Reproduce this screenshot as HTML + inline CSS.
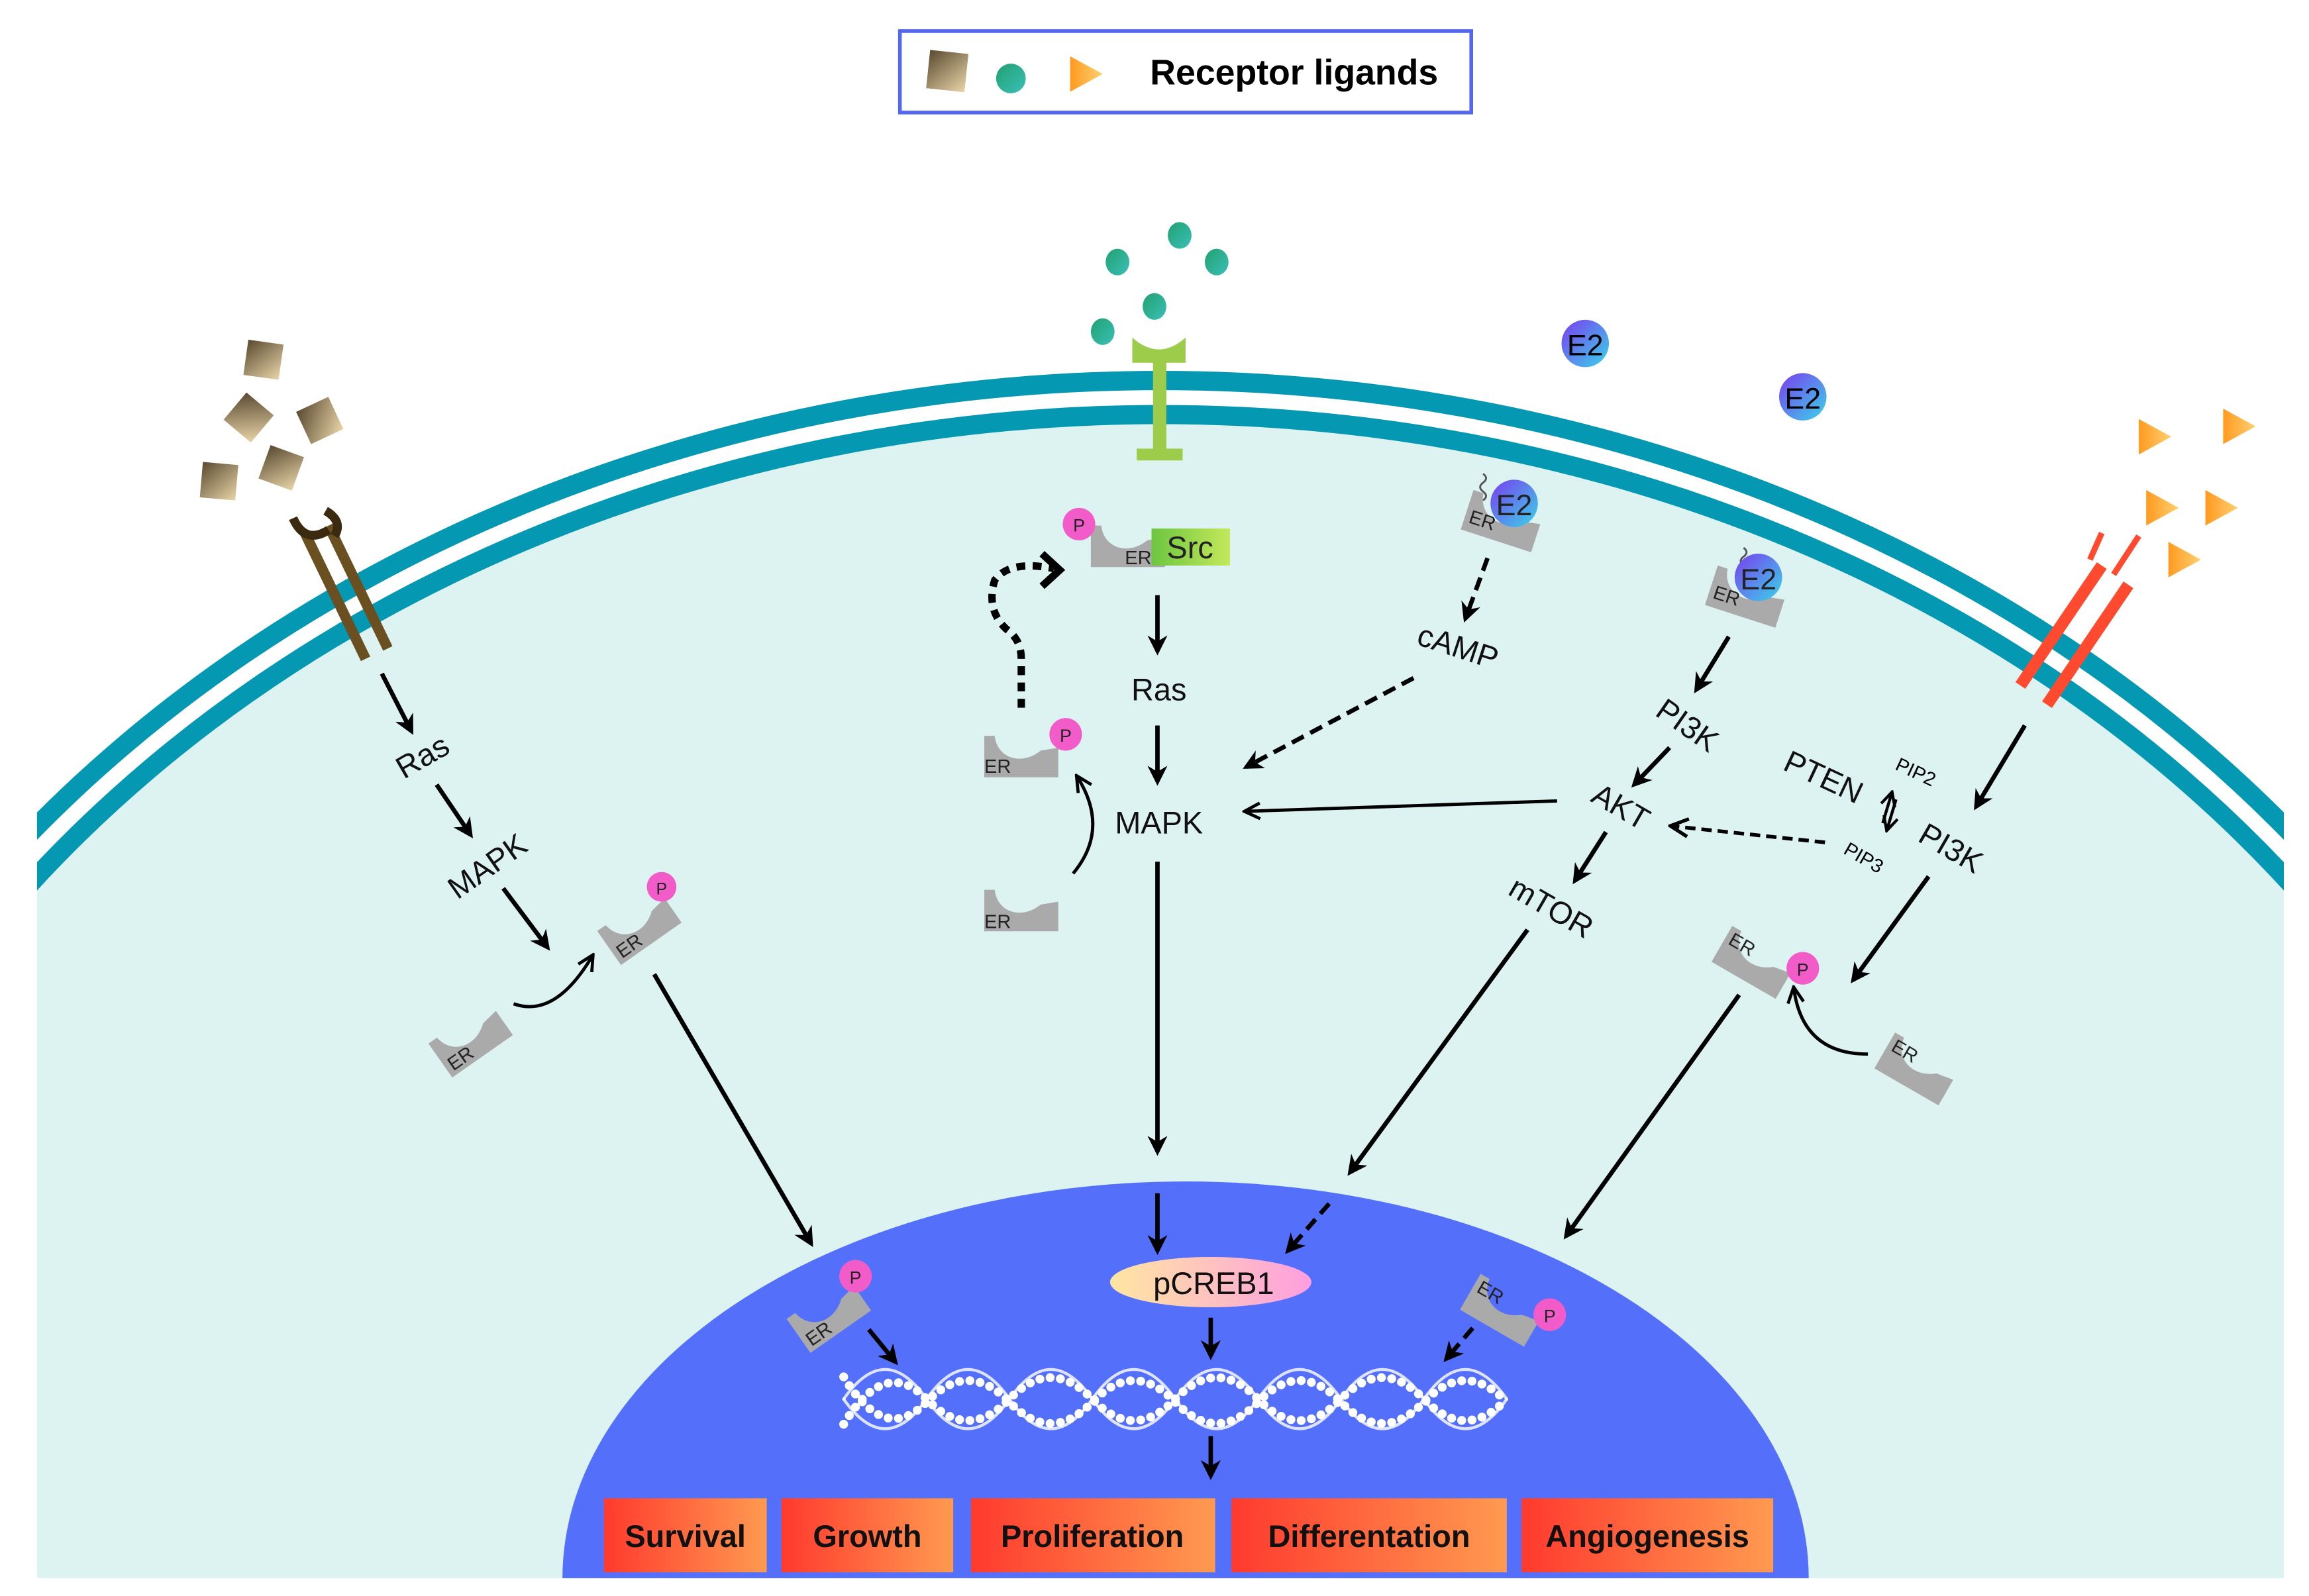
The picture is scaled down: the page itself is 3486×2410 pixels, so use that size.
<!DOCTYPE html>
<html><head><meta charset="utf-8"><style>
html,body{margin:0;padding:0;background:#fff;width:3486px;height:2410px;overflow:hidden;}
svg{display:block;position:absolute;left:0;top:0;}
text{font-family:"Liberation Sans",sans-serif;}
</style></head><body>
<svg width="3486" height="2410" viewBox="0 0 1560 1078" preserveAspectRatio="none" xmlns="http://www.w3.org/2000/svg">
<defs>
<marker id="ah" viewBox="0 0 10 10" refX="8" refY="5" markerWidth="4.5" markerHeight="4.5" orient="auto" markerUnits="strokeWidth">
<path d="M0,0 L10,5 L0,10 L3,5 Z" fill="#000"/></marker>
<marker id="ah2" viewBox="0 0 10 10" refX="8" refY="5" markerWidth="6" markerHeight="6" orient="auto" markerUnits="strokeWidth">
<path d="M1,1 L9,5 L1,9" fill="none" stroke="#000" stroke-width="1.6"/></marker>
<clipPath id="cellclip"><rect x="25" y="0" width="1518" height="1066"/></clipPath>
<linearGradient id="box" x1="0" x2="1" y1="0" y2="0"><stop offset="0" stop-color="#ff3a2e"/><stop offset="1" stop-color="#ff9a50"/></linearGradient>
<linearGradient id="creb" x1="0" x2="1"><stop offset="0" stop-color="#ffe6a0"/><stop offset="1" stop-color="#ff9ee0"/></linearGradient>
<linearGradient id="e2" x1="0" x2="1" y1="0" y2="1"><stop offset="0" stop-color="#7a3cf0"/><stop offset="1" stop-color="#3ad4e8"/></linearGradient>
<linearGradient id="gdot" x1="0" x2="1" y1="0" y2="1"><stop offset="0" stop-color="#22a070"/><stop offset="1" stop-color="#3ac0b8"/></linearGradient>
<linearGradient id="brown" x1="0" x2="1" y1="0" y2="1"><stop offset="0" stop-color="#5a4a30"/><stop offset="1" stop-color="#e8d4a8"/></linearGradient>
<linearGradient id="tri" x1="0" x2="1"><stop offset="0" stop-color="#ff9a20"/><stop offset="1" stop-color="#ffd070"/></linearGradient>
<linearGradient id="src" x1="0" x2="1"><stop offset="0" stop-color="#6cc640"/><stop offset="1" stop-color="#c4e85a"/></linearGradient>
<g id="er"><path d="M0,0 L7,0 C9,16 26,20 38,10 L50,8 L50,28 L0,28 Z" fill="#aaaaaa"/></g>
<polygon id="trg" points="0,-12 22,0 0,12" fill="url(#tri)"/>
</defs>

<g clip-path="url(#cellclip)">
<ellipse cx="784" cy="1100" rx="967" ry="820" fill="#ddf3f2"/>
<ellipse cx="784" cy="1100" rx="991" ry="843" fill="none" stroke="#0598b2" stroke-width="13"/>
<ellipse cx="784" cy="1100" rx="967" ry="820" fill="none" stroke="#0598b2" stroke-width="13"/>
</g>
<rect x="0" y="1066" width="1560" height="12" fill="#fff"/>
<path d="M380,1066 A421,268 0 0 1 1222,1066 Z" fill="#5470fb"/>

<rect x="608" y="21" width="386" height="55" fill="#fff" stroke="#5468ee" stroke-width="2.5"/>
<rect x="627" y="35" width="26" height="26" fill="url(#brown)" transform="rotate(6 640 48)"/>
<circle cx="683" cy="53" r="10" fill="url(#gdot)"/>
<use href="#trg" x="723" y="50"/>
<text x="777" y="57" font-size="24" font-weight="bold">Receptor ligands</text>

<g fill="url(#brown)">
<rect x="166" y="231" width="24" height="24" transform="rotate(8 178 243)"/>
<rect x="156" y="270" width="24" height="24" transform="rotate(40 168 282)"/>
<rect x="204" y="272" width="24" height="24" transform="rotate(-25 216 284)"/>
<rect x="136" y="313" width="24" height="24" transform="rotate(5 148 325)"/>
<rect x="178" y="304" width="24" height="24" transform="rotate(20 190 316)"/>
</g>
<g stroke="#6a5020" stroke-width="7">
<line x1="206" y1="360" x2="247" y2="445"/>
<line x1="222" y1="355" x2="262" y2="438"/>
</g>
<path d="M198,350 Q206,368 222,358" fill="none" stroke="#3a2a10" stroke-width="6"/>
<path d="M220,345 Q232,352 226,362" fill="none" stroke="#3a2a10" stroke-width="6"/>

<g fill="#9ccc4a">
<rect x="779" y="243" width="9" height="64"/>
<rect x="768" y="303" width="31" height="8"/>
<path d="M765,228 Q783,244 801,228 L801,245 L765,245 Z"/>
</g>
<g fill="url(#gdot)">
<ellipse cx="755" cy="177" rx="8" ry="9"/><ellipse cx="797" cy="159" rx="8" ry="9"/>
<ellipse cx="822" cy="177" rx="8" ry="9"/><ellipse cx="780" cy="207" rx="8" ry="9"/>
<ellipse cx="745" cy="224" rx="8" ry="9"/>
</g>
<circle cx="1071" cy="232" r="16" fill="url(#e2)"/><text x="1071" y="240" font-size="20" text-anchor="middle">E2</text>
<circle cx="1218" cy="268" r="16" fill="url(#e2)"/><text x="1218" y="276" font-size="20" text-anchor="middle">E2</text>
<use href="#trg" x="1445" y="295"/><use href="#trg" x="1502" y="288"/>
<use href="#trg" x="1450" y="343"/><use href="#trg" x="1490" y="343"/>
<use href="#trg" x="1465" y="378"/>
<g stroke="#ff4a30" stroke-width="8">
<line x1="1365" y1="463" x2="1420" y2="382"/>
<line x1="1383" y1="476" x2="1438" y2="395"/>
</g>
<path d="M1412,378 L1420,360 M1428,388 L1445,362" stroke="#ff4a30" stroke-width="4"/>

<g stroke="#000" stroke-width="3" fill="none" marker-end="url(#ah)">
<line x1="258" y1="455" x2="278" y2="494"/>
<line x1="295" y1="530" x2="318" y2="564"/>
<line x1="340" y1="600" x2="370" y2="640"/>
<line x1="442" y1="658" x2="548" y2="840"/>
<line x1="782" y1="402" x2="782" y2="440"/>
<line x1="782" y1="490" x2="782" y2="528"/>
<line x1="782" y1="582" x2="782" y2="778"/>
<line x1="1168" y1="430" x2="1146" y2="466"/>
<line x1="1128" y1="505" x2="1104" y2="530"/>
<line x1="1085" y1="562" x2="1064" y2="595"/>
<line x1="1032" y1="628" x2="912" y2="792"/>
<line x1="1368" y1="490" x2="1335" y2="545"/>
<line x1="1303" y1="592" x2="1252" y2="662"/>
<line x1="1175" y1="672" x2="1058" y2="835"/>
<line x1="782" y1="806" x2="782" y2="845"/>
<line x1="587" y1="898" x2="605" y2="920"/>
<line x1="818" y1="890" x2="818" y2="916"/>
<line x1="818" y1="970" x2="818" y2="997"/>
</g>
<g stroke="#000" stroke-width="2.2" fill="none" marker-end="url(#ah2)">
<line x1="1052" y1="541" x2="842" y2="548"/>
<path d="M347,678 Q375,688 400,646"/>
<path d="M725,590 Q750,560 728,525"/>
<path d="M1262,712 Q1218,712 1212,668"/>
</g>
<g stroke="#000" stroke-width="3" fill="none" stroke-dasharray="9 5" marker-end="url(#ah)">
<line x1="1005" y1="377" x2="990" y2="418"/>
<line x1="955" y1="458" x2="842" y2="518"/>
<line x1="898" y1="813" x2="870" y2="845"/>
<line x1="995" y1="897" x2="977" y2="918"/>
</g>
<line x1="1233" y1="569" x2="1130" y2="558" stroke="#000" stroke-width="2.5" stroke-dasharray="7 4" marker-end="url(#ah2)"/>
<path d="M690,478 L690,445 Q690,432 680,425 Q666,412 672,392 Q682,378 712,384" fill="none" stroke="#000" stroke-width="5" stroke-dasharray="6 5"/>
<path d="M704,374 L716,385 L704,396" fill="none" stroke="#000" stroke-width="5"/>
<g stroke="#000" stroke-width="2" fill="none" marker-end="url(#ah2)">
<line x1="1272" y1="556" x2="1278" y2="536"/>
<line x1="1281" y1="540" x2="1275" y2="560"/>
</g>

<g font-size="21" fill="#111">
<text x="286" y="518" text-anchor="middle" transform="rotate(-30 286 512)">Ras</text>
<text x="330" y="592" text-anchor="middle" transform="rotate(-35 330 586)">MAPK</text>
<text x="783" y="473" text-anchor="middle">Ras</text>
<text x="783" y="563" text-anchor="middle">MAPK</text>
<text x="985" y="444" text-anchor="middle" transform="rotate(18 985 437)">cAMP</text>
<text x="1140" y="497" text-anchor="middle" transform="rotate(35 1140 490)">PI3K</text>
<text x="1095" y="552" text-anchor="middle" transform="rotate(30 1095 545)">AKT</text>
<text x="1048" y="620" text-anchor="middle" transform="rotate(30 1048 613)">mTOR</text>
<text x="1232" y="532" text-anchor="middle" transform="rotate(25 1232 525)">PTEN</text>
<text x="1318" y="580" text-anchor="middle" transform="rotate(30 1318 573)">PI3K</text>
</g>
<text x="1295" y="526" font-size="13" text-anchor="middle" transform="rotate(25 1295 520)">PIP2</text>
<text x="1260" y="584" font-size="13" text-anchor="middle" transform="rotate(30 1260 578)">PIP3</text>

<g font-size="13" fill="#222">
<g transform="translate(318,702) rotate(-35) translate(-25,-14)"><use href="#er"/><text x="3" y="25">ER</text></g>
<g transform="translate(432,626) rotate(-35) translate(-25,-14)"><use href="#er"/><text x="3" y="25">ER</text></g>
<circle cx="447" cy="599" r="10" fill="#f25cc8"/><text x="447" y="604" font-size="11" text-anchor="middle">P</text>
<use href="#er" x="737" y="355"/>
<rect x="778" y="357" width="53" height="25" fill="url(#src)"/>
<text x="760" y="381">ER</text>
<text x="804" y="377" font-size="21" text-anchor="middle">Src</text>
<circle cx="729" cy="354" r="11" fill="#f25cc8"/><text x="729" y="359" font-size="12" text-anchor="middle">P</text>
<use href="#er" x="665" y="497"/><text x="665" y="522">ER</text>
<circle cx="720" cy="496" r="11" fill="#f25cc8"/><text x="720" y="501" font-size="12" text-anchor="middle">P</text>
<use href="#er" x="665" y="601"/><text x="665" y="627">ER</text>
<g transform="translate(1015,352) rotate(18) translate(-25,-14)"><use href="#er"/><text x="3" y="22">ER</text></g>
<path d="M1002,320 q4,3 0,6 q-4,3 0,6 q4,3 0,6" stroke="#555" fill="none" stroke-width="1.3"/>
<circle cx="1023" cy="340" r="16" fill="url(#e2)"/><text x="1023" y="348" font-size="20" text-anchor="middle">E2</text>
<g transform="translate(1180,403) rotate(18) translate(-25,-14)"><use href="#er"/><text x="3" y="22">ER</text></g>
<path d="M1178,370 q4,3 0,6 q-4,3 0,6 q4,3 0,6" stroke="#555" fill="none" stroke-width="1.3"/>
<circle cx="1188" cy="390" r="16" fill="url(#e2)"/><text x="1188" y="398" font-size="20" text-anchor="middle">E2</text>
<g transform="translate(1185,650) rotate(30) translate(-25,-14)"><use href="#er"/><text x="3" y="12">ER</text></g>
<circle cx="1218" cy="654" r="11" fill="#f25cc8"/><text x="1218" y="659" font-size="12" text-anchor="middle">P</text>
<g transform="translate(1295,722) rotate(30) translate(-25,-14)"><use href="#er"/><text x="3" y="12">ER</text></g>
<g transform="translate(560,888) rotate(-35) translate(-25,-14)"><use href="#er"/><text x="3" y="25">ER</text></g>
<circle cx="578" cy="862" r="11" fill="#f25cc8"/><text x="578" y="867" font-size="12" text-anchor="middle">P</text>
<g transform="translate(1015,885) rotate(30) translate(-25,-14)"><use href="#er"/><text x="3" y="12">ER</text></g>
<circle cx="1047" cy="888" r="11" fill="#f25cc8"/><text x="1047" y="893" font-size="12" text-anchor="middle">P</text>
</g>

<ellipse cx="818" cy="866" rx="68" ry="17" fill="url(#creb)"/>
<text x="820" y="874" font-size="21" text-anchor="middle" fill="#111">pCREB1</text>

<g fill="none" stroke="#fff" stroke-linecap="round">
<path d="M570,962 q28,-46 56,-17 t56,0 t56,0 t56,0 t56,0 t56,0 t56,0 t56,0" stroke-width="6" stroke-dasharray="0 7"/>
<path d="M570,930 q28,46 56,17 t56,0 t56,0 t56,0 t56,0 t56,0 t56,0 t56,0" stroke-width="6" stroke-dasharray="0 7"/>
<path d="M570,945 q28,-40 56,0 t56,0 t56,0 t56,0 t56,0 t56,0 t56,0 t56,0" stroke-width="2" opacity="0.8"/>
<path d="M570,945 q28,40 56,0 t56,0 t56,0 t56,0 t56,0 t56,0 t56,0 t56,0" stroke-width="2" opacity="0.8"/>
</g>

<g>
<rect x="408" y="1012" width="110" height="50" fill="url(#box)"/>
<rect x="528" y="1012" width="116" height="50" fill="url(#box)"/>
<rect x="656" y="1012" width="165" height="50" fill="url(#box)"/>
<rect x="832" y="1012" width="186" height="50" fill="url(#box)"/>
<rect x="1028" y="1012" width="170" height="50" fill="url(#box)"/>
</g>
<g font-size="21" font-weight="bold" text-anchor="middle" fill="#111">
<text x="463" y="1045">Survival</text>
<text x="586" y="1045">Growth</text>
<text x="738" y="1045">Proliferation</text>
<text x="925" y="1045">Differentation</text>
<text x="1113" y="1045">Angiogenesis</text>
</g>
</svg>
</body></html>
